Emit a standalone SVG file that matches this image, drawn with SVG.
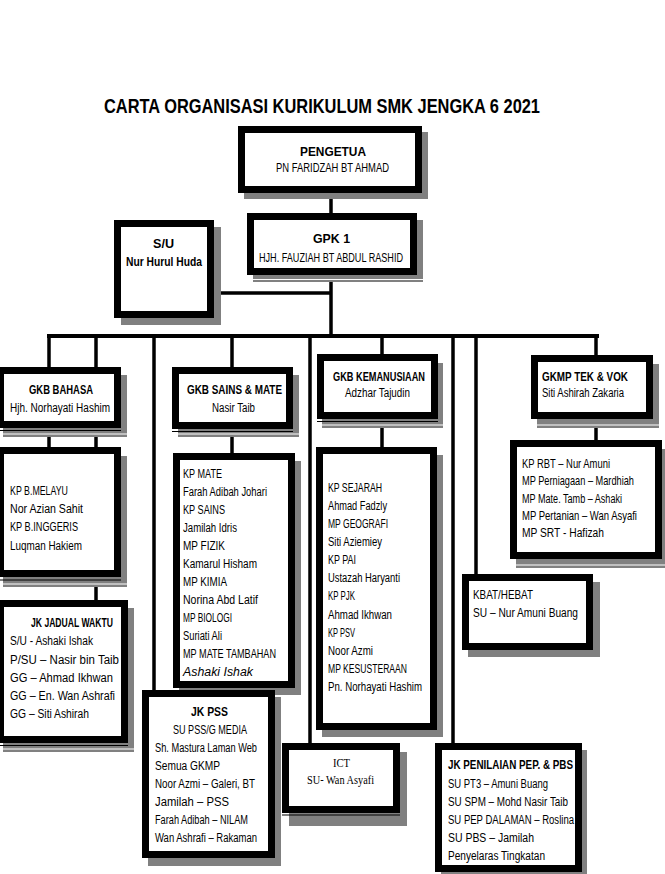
<svg xmlns="http://www.w3.org/2000/svg" width="665" height="874" viewBox="0 0 665 874">
<style>
.bx{fill:#fff;stroke:#000;stroke-width:7}
.sh{fill:#808080}
.sw{stroke:#fff;stroke-width:1.2}
.th{stroke:#000;stroke-width:1.2}
.ln{stroke:#000;stroke-width:3.5;fill:none}
.bus{stroke:#000;stroke-width:4;fill:none}
text{font-family:"Liberation Sans",Arial,sans-serif;font-size:12.5px;fill:#000}
.b{font-weight:bold}
.i{font-style:italic}
.s{font-family:"Liberation Serif","Times New Roman",serif;font-size:13px}
</style>
<rect width="665" height="874" fill="#fff"/>
<text id="title" x="104" y="113" class="b" style="font-size:21px" textLength="436" lengthAdjust="spacingAndGlyphs">CARTA ORGANISASI KURIKULUM SMK JENGKA 6 2021</text>

<g id="connectors">
<line class="ln" x1="331" y1="190" x2="331" y2="216"/>
<line class="ln" x1="331" y1="272" x2="331" y2="336"/>
<line class="ln" x1="212" y1="293" x2="331" y2="293"/>
<line class="bus" x1="47" y1="336" x2="599" y2="336"/>
<line class="ln" x1="49" y1="336" x2="49" y2="450"/>
<line class="ln" x1="96" y1="336" x2="96" y2="603"/>
<line class="ln" x1="154" y1="336" x2="154" y2="693"/>
<line class="ln" x1="232" y1="336" x2="232" y2="456"/>
<line class="ln" x1="310" y1="336" x2="310" y2="746"/>
<line class="ln" x1="382" y1="336" x2="382" y2="450"/>
<line class="ln" x1="453" y1="336" x2="453" y2="746"/>
<line class="ln" x1="476" y1="336" x2="476" y2="578"/>
<line class="ln" x1="596" y1="336" x2="596" y2="443"/>
</g>

<g id="pengetua">
<rect class="sh" x="244" y="132" width="184" height="67"/>
<rect class="bx" x="241.5" y="129.5" width="177" height="60"/>
<text x="300" y="156" class="b" textLength="66" lengthAdjust="spacingAndGlyphs">PENGETUA</text>
<text x="276" y="172" textLength="113" lengthAdjust="spacingAndGlyphs">PN FARIDZAH BT AHMAD</text>
</g>

<g id="gpk1">
<rect class="sh" x="253" y="220" width="170" height="62"/>
<line class="sw" x1="253" y1="279.5" x2="423" y2="279.5"/>
<rect class="bx" x="250.5" y="216.5" width="163" height="55"/>
<text x="313" y="243" class="b" textLength="37" lengthAdjust="spacingAndGlyphs">GPK 1</text>
<text x="259" y="262" textLength="144" lengthAdjust="spacingAndGlyphs">HJH. FAUZIAH BT ABDUL RASHID</text>
</g>

<g id="su">
<rect class="sh" x="121" y="227" width="100" height="98"/>
<rect class="bx" x="117.5" y="223.5" width="93" height="91"/>
<text x="153" y="248" class="b" textLength="21" lengthAdjust="spacingAndGlyphs">S/U</text>
<text x="126" y="266" class="b" textLength="76" lengthAdjust="spacingAndGlyphs">Nur Hurul Huda</text>
</g>

<g id="gkb-bahasa">
<rect class="sh" x="3" y="375" width="124" height="62"/>
<line class="sw" x1="3" y1="434" x2="127" y2="434"/>
<line class="th" x1="-3" y1="430.5" x2="121" y2="430.5"/>
<rect class="bx" x="0.5" y="370.5" width="117" height="54"/>
<text x="29" y="394" class="b" textLength="64" lengthAdjust="spacingAndGlyphs">GKB BAHASA</text>
<text x="10" y="412" textLength="100" lengthAdjust="spacingAndGlyphs">Hjh. Norhayati Hashim</text>
</g>

<g id="gkb-sains">
<rect class="sh" x="178" y="375" width="121" height="62"/>
<line class="sw" x1="178" y1="434" x2="299" y2="434"/>
<line class="th" x1="172" y1="431.5" x2="293" y2="431.5"/>
<rect class="bx" x="175.5" y="370.5" width="114" height="55"/>
<text x="187" y="394" class="b" textLength="95" lengthAdjust="spacingAndGlyphs">GKB SAINS &amp; MATE</text>
<text x="212" y="412" textLength="43" lengthAdjust="spacingAndGlyphs">Nasir Taib</text>
</g>

<g id="gkb-kemanusiaan">
<rect class="sh" x="322" y="363" width="121" height="65"/>
<line class="sw" x1="322" y1="425" x2="443" y2="425"/>
<line class="th" x1="317" y1="421.5" x2="438" y2="421.5"/>
<rect class="bx" x="320.5" y="357.5" width="114" height="58"/>
<text x="333" y="381" class="b" textLength="92" lengthAdjust="spacingAndGlyphs">GKB KEMANUSIAAN</text>
<text x="345" y="397" textLength="65" lengthAdjust="spacingAndGlyphs">Adzhar Tajudin</text>
</g>

<g id="gkmp-tek">
<rect class="sh" x="537" y="364" width="122" height="64"/>
<line class="sw" x1="537" y1="425" x2="659" y2="425"/>
<rect class="bx" x="534.5" y="358.5" width="115" height="57"/>
<text x="542" y="381" class="b" textLength="86" lengthAdjust="spacingAndGlyphs">GKMP TEK &amp; VOK</text>
<text x="542" y="397" textLength="82" lengthAdjust="spacingAndGlyphs">Siti Ashirah Zakaria</text>
</g>

<g id="bahasa-detail">
<rect class="sh" x="3" y="456" width="124" height="131"/>
<line class="sw" x1="3" y1="584" x2="127" y2="584"/>
<line class="th" x1="-3" y1="580" x2="121" y2="580"/>
<rect class="bx" x="0.5" y="450.5" width="117" height="123"/>
<text x="10" y="495" textLength="58" lengthAdjust="spacingAndGlyphs">KP B.MELAYU</text>
<text x="10" y="513" textLength="73" lengthAdjust="spacingAndGlyphs">Nor Azian Sahit</text>
<text x="10" y="531" textLength="68" lengthAdjust="spacingAndGlyphs">KP B.INGGERIS</text>
<text x="10" y="550" textLength="72" lengthAdjust="spacingAndGlyphs">Luqman Hakiem</text>
</g>

<g id="jk-jadual">
<rect class="sh" x="3" y="608" width="131" height="144"/>
<line class="sw" x1="3" y1="749" x2="134" y2="749"/>
<line class="th" x1="-3" y1="745.5" x2="128" y2="745.5"/>
<rect class="bx" x="0.5" y="603.5" width="124" height="136"/>
<text x="31" y="627" class="b" textLength="82" lengthAdjust="spacingAndGlyphs">JK JADUAL WAKTU</text>
<text x="10" y="645" textLength="83" lengthAdjust="spacingAndGlyphs">S/U - Ashaki Ishak</text>
<text x="10" y="664" textLength="109" lengthAdjust="spacingAndGlyphs">P/SU – Nasir bin Taib</text>
<text x="10" y="682" textLength="103" lengthAdjust="spacingAndGlyphs">GG – Ahmad Ikhwan</text>
<text x="10" y="700" textLength="105" lengthAdjust="spacingAndGlyphs">GG – En. Wan Ashrafi</text>
<text x="10" y="718" textLength="79" lengthAdjust="spacingAndGlyphs">GG – Siti Ashirah</text>
</g>

<g id="sains-detail">
<rect class="sh" x="179" y="461" width="122" height="234"/>
<rect class="bx" x="176.5" y="456.5" width="115" height="228"/>
<text x="183" y="478" textLength="39" lengthAdjust="spacingAndGlyphs">KP MATE</text>
<text x="183" y="496" textLength="84" lengthAdjust="spacingAndGlyphs">Farah Adibah Johari</text>
<text x="183" y="514" textLength="42" lengthAdjust="spacingAndGlyphs">KP SAINS</text>
<text x="183" y="532" textLength="54" lengthAdjust="spacingAndGlyphs">Jamilah Idris</text>
<text x="183" y="550" textLength="42" lengthAdjust="spacingAndGlyphs">MP FIZIK</text>
<text x="183" y="568" textLength="74" lengthAdjust="spacingAndGlyphs">Kamarul Hisham</text>
<text x="183" y="586" textLength="44" lengthAdjust="spacingAndGlyphs">MP KIMIA</text>
<text x="183" y="604" textLength="75" lengthAdjust="spacingAndGlyphs">Norina Abd Latif</text>
<text x="183" y="622" textLength="49" lengthAdjust="spacingAndGlyphs">MP BIOLOGI</text>
<text x="183" y="640" textLength="39" lengthAdjust="spacingAndGlyphs">Suriati Ali</text>
<text x="183" y="658" textLength="93" lengthAdjust="spacingAndGlyphs">MP MATE TAMBAHAN</text>
<text x="183" y="676" class="i" textLength="70" lengthAdjust="spacingAndGlyphs">Ashaki Ishak</text>
</g>

<g id="kemanusiaan-detail">
<rect class="sh" x="322" y="455" width="121" height="282"/>
<rect class="bx" x="319.5" y="450.5" width="114" height="276"/>
<text x="328" y="492" textLength="54" lengthAdjust="spacingAndGlyphs">KP SEJARAH</text>
<text x="328" y="510" textLength="59" lengthAdjust="spacingAndGlyphs">Ahmad Fadzly</text>
<text x="328" y="528" textLength="60" lengthAdjust="spacingAndGlyphs">MP GEOGRAFI</text>
<text x="328" y="546" textLength="54" lengthAdjust="spacingAndGlyphs">Siti Aziemiey</text>
<text x="328" y="564" textLength="28" lengthAdjust="spacingAndGlyphs">KP PAI</text>
<text x="328" y="582" textLength="72" lengthAdjust="spacingAndGlyphs">Ustazah Haryanti</text>
<text x="328" y="600" textLength="27" lengthAdjust="spacingAndGlyphs">KP PJK</text>
<text x="328" y="619" textLength="64" lengthAdjust="spacingAndGlyphs">Ahmad Ikhwan</text>
<text x="328" y="637" textLength="27" lengthAdjust="spacingAndGlyphs">KP PSV</text>
<text x="328" y="655" textLength="45" lengthAdjust="spacingAndGlyphs">Noor Azmi</text>
<text x="328" y="673" textLength="79" lengthAdjust="spacingAndGlyphs">MP KESUSTERAAN</text>
<text x="328" y="691" textLength="94" lengthAdjust="spacingAndGlyphs">Pn. Norhayati Hashim</text>
</g>

<g id="tek-detail">
<rect class="sh" x="516" y="449" width="149" height="119"/>
<line class="sw" x1="516" y1="565" x2="665" y2="565"/>
<rect class="bx" x="513.5" y="443.5" width="145" height="112"/>
<text x="522" y="468" textLength="88" lengthAdjust="spacingAndGlyphs">KP RBT – Nur Amuni</text>
<text transform="translate(522,485) scale(0.75,1)" x="0" y="0" textLength="149.3" lengthAdjust="spacingAndGlyphs">MP Perniagaan – Mardhiah</text>
<text x="522" y="503" textLength="100" lengthAdjust="spacingAndGlyphs">MP Mate. Tamb – Ashaki</text>
<text transform="translate(522,520) scale(0.75,1)" x="0" y="0" textLength="153.3" lengthAdjust="spacingAndGlyphs">MP Pertanian – Wan Asyafi</text>
<text x="522" y="537" textLength="82" lengthAdjust="spacingAndGlyphs">MP SRT - Hafizah</text>
</g>

<g id="kbat">
<rect class="sh" x="468" y="582" width="132" height="75"/>
<rect class="bx" x="465.5" y="577.5" width="124" height="69"/>
<text x="473" y="599" textLength="60" lengthAdjust="spacingAndGlyphs">KBAT/HEBAT</text>
<text x="473" y="617" textLength="105" lengthAdjust="spacingAndGlyphs">SU – Nur Amuni Buang</text>
</g>

<g id="jk-pss">
<rect class="sh" x="148" y="697" width="133" height="169"/>
<rect class="bx" x="145.5" y="693.5" width="126" height="161"/>
<text x="191" y="716" class="b" textLength="37" lengthAdjust="spacingAndGlyphs">JK PSS</text>
<text x="173" y="734" textLength="74" lengthAdjust="spacingAndGlyphs">SU PSS/G MEDIA</text>
<text x="155" y="752" textLength="102" lengthAdjust="spacingAndGlyphs">Sh. Mastura Laman Web</text>
<text x="155" y="770" textLength="65" lengthAdjust="spacingAndGlyphs">Semua GKMP</text>
<text x="155" y="788" textLength="100" lengthAdjust="spacingAndGlyphs">Noor Azmi – Galeri, BT</text>
<text x="155" y="806" textLength="74" lengthAdjust="spacingAndGlyphs">Jamilah – PSS</text>
<text x="155" y="824" textLength="93" lengthAdjust="spacingAndGlyphs">Farah Adibah – NILAM</text>
<text x="155" y="842" textLength="102" lengthAdjust="spacingAndGlyphs">Wan Ashrafi – Rakaman</text>
</g>

<g id="ict">
<rect class="sh" x="289" y="752" width="118" height="74"/>
<line class="th" x1="282" y1="815" x2="400" y2="815"/>
<rect class="bx" x="285.5" y="746.5" width="111" height="63"/>
<text x="333" y="767" class="s" textLength="17" lengthAdjust="spacingAndGlyphs">ICT</text>
<text x="307" y="784" class="s" textLength="67" lengthAdjust="spacingAndGlyphs">SU- Wan Asyafi</text>
</g>

<g id="jk-penilaian">
<rect class="sh" x="441" y="750" width="146" height="124"/>
<rect class="bx" x="438.5" y="746.5" width="140" height="122"/>
<text x="448" y="769" class="b" textLength="125" lengthAdjust="spacingAndGlyphs">JK PENILAIAN PEP. &amp; PBS</text>
<text x="448" y="788" textLength="100" lengthAdjust="spacingAndGlyphs">SU PT3 – Amuni Buang</text>
<text x="448" y="806" textLength="120" lengthAdjust="spacingAndGlyphs">SU SPM – Mohd Nasir Taib</text>
<text x="448" y="824" textLength="126" lengthAdjust="spacingAndGlyphs">SU PEP DALAMAN – Roslina</text>
<text x="448" y="842" textLength="86" lengthAdjust="spacingAndGlyphs">SU PBS – Jamilah</text>
<text x="448" y="860" textLength="97" lengthAdjust="spacingAndGlyphs">Penyelaras Tingkatan</text>
</g>
</svg>
